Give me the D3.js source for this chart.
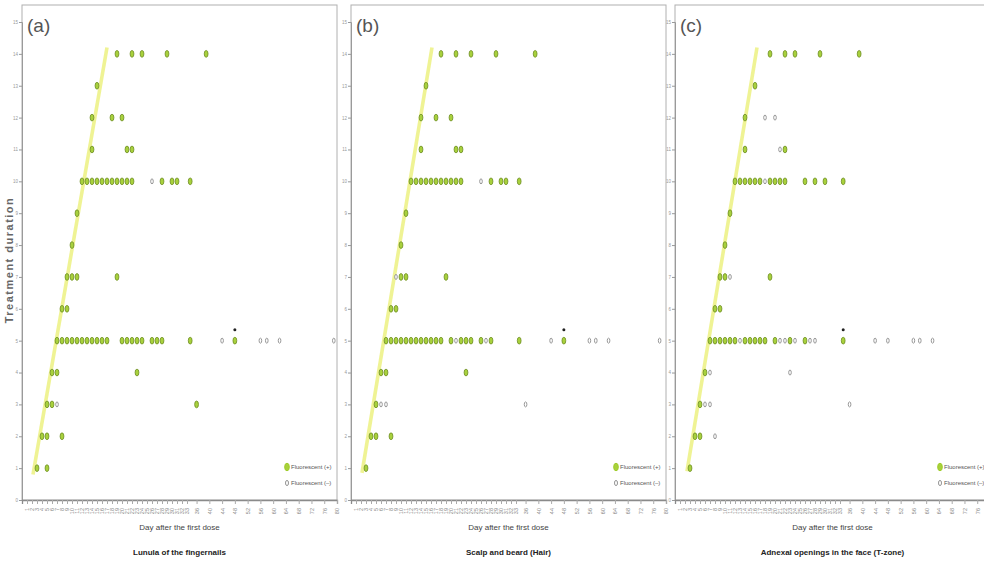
<!DOCTYPE html>
<html><head><meta charset="utf-8">
<script src="https://cdn.jsdelivr.net/npm/d3@7"></script>
<style>body{margin:0;background:#fff}svg{display:block}</style>
</head><body><svg id="chart" width="984" height="565"></svg>
<script>
// ---------------- data ----------------
const panelLetters = ["(a)", "(b)", "(c)"];
const panelTitles = ["Lunula of the fingernails", "Scalp and beard (Hair)", "Adnexal openings in the face (T-zone)"];
const xAxisTitle = "Day after the first dose";
const yAxisTitle = "Treatment duration";
const legendLabels = ["Fluorescent (+)", "Fluorescent (\u2013)"];
const durationTicks = [0,1,2,3,4,5,6,7,8,9,10,11,12,13,14,15];
const dayTicks = [1,2,3,4,5,6,7,8,9,10,11,12,13,14,15,16,17,18,19,20,21,22,23,24,25,26,27,28,29,30,31,32,33,
                  36,40,44,48,52,56,60,64,68,72,76,80];

// rows: [treatment duration, fluorescent (+) days, fluorescent (-) days]
const lunulaRows = [
  [14, [19,22,24,29,39], []],
  [13, [15], []],
  [12, [14,18,20], []],
  [11, [14,21,22], []],
  [10, [12,13,14,15,16,17,18,19,20,21,22,28,30,31,34], [26]],
  [9,  [11], []],
  [8,  [10], []],
  [7,  [9,10,11,19], []],
  [6,  [8,9], []],
  [5,  [7,8,9,10,11,12,13,14,15,16,17,20,21,22,23,24,26,27,28,34,48], [44,56,58,62,79]],
  [4,  [6,7,23], []],
  [3,  [5,6,36], [7]],
  [2,  [4,5,8], []],
  [1,  [3,5], []]
];
const scalpRows = [
  [14, [18,21,24,29,39], []],
  [13, [15], []],
  [12, [14,17,20], []],
  [11, [14,21,22], []],
  [10, [12,13,14,15,16,17,18,19,20,21,22,28,30,31,34], [26]],
  [9,  [11], []],
  [8,  [10], []],
  [7,  [10,11,19], [9]],
  [6,  [8,9], []],
  [5,  [7,8,9,10,11,12,13,14,15,16,17,18,20,22,23,24,26,28,34,48], [21,27,44,56,58,62,78]],
  [4,  [6,7,23], []],
  [3,  [5], [6,7,36]],
  [2,  [4,5,8], []],
  [1,  [3], []]
];
const adnexalRows = [
  [14, [19,22,24,29,39], []],
  [13, [16], []],
  [12, [14], [18,20]],
  [11, [14,22], [21]],
  [10, [12,13,14,15,16,17,19,20,21,22,26,28,30,34], [18]],
  [9,  [11], []],
  [8,  [10], []],
  [7,  [9,10,19], [11]],
  [6,  [8,9], []],
  [5,  [7,8,9,10,11,12,14,15,16,17,18,20,23,26,34], [13,21,22,24,27,28,44,48,56,58,62,79]],
  [4,  [6], [7,23]],
  [3,  [5], [6,7,36]],
  [2,  [4,5], [8]],
  [1,  [3], []]
];
const starMarks = [[5,48],[5,48],[5,34]];          // [duration, day] of the black mark per panel
const endLineLunula = [[2.2,0.8],[17,14.2]];          // [day, duration]
const endLineScalp = [[2.2,0.85],[16.2,14.2]];
const endLineAdnexal = [[2.4,0.9],[16.4,14.2]];

const panelRows = [lunulaRows, scalpRows, adnexalRows];
const panelLines = [endLineLunula, endLineScalp, endLineAdnexal];

// ---------------- layout ----------------
const W = 984;
const panelX0 = [22, 351, 675];
const plotW = 315, yTop = 5, yBottom = 500;
const svg = d3.select("#chart");
const posFill = "#a8d13c", posStroke = "#6f8d27";
const narrow = "Liberation Sans Narrow, Liberation Sans, sans-serif";

panelX0.forEach((x0, i) => {
  const g = svg.append("g");
  const x = d3.scaleLinear().domain([0, 33, 80]).range([x0, x0 + 165, x0 + plotW]);
  const y = d3.scaleLinear().domain([0, 15]).range([yBottom, 22]);

  // frame
  g.append("rect").attr("x", x0).attr("y", yTop).attr("width", plotW).attr("height", yBottom - yTop)
    .attr("fill", "none").attr("stroke", "#b0b0b0").attr("stroke-width", 1);

  // y axis
  const ya = g.append("g").attr("transform", `translate(${x0},0)`)
    .call(d3.axisLeft(y).tickValues(durationTicks).tickSize(3).tickPadding(1));
  ya.select(".domain").attr("stroke", "#9a9a9a");
  ya.selectAll(".tick line").attr("stroke", "#999");
  ya.selectAll(".tick text").attr("font-size", 4.5).attr("fill", "#999").attr("font-family", "Liberation Sans, sans-serif");

  // x axis (ticks that fall inside the page)
  const visTicks = dayTicks.filter(d => x(d) <= W - 4);
  const xa = g.append("g").attr("transform", `translate(0,${yBottom})`)
    .call(d3.axisBottom(x).tickValues(visTicks).tickSize(4).tickPadding(2));
  xa.select(".domain").attr("stroke", "#8a8a8a").attr("stroke-width", 1.3);
  xa.selectAll(".tick line").attr("stroke", "#aaa");
  xa.selectAll(".tick text").attr("font-size", 5.5).attr("fill", "#888")
    .attr("font-family", narrow)
    .attr("x", 0).attr("y", 0).attr("dy", "0.35em").style("text-anchor", "end")
    .attr("transform", "translate(0,8) rotate(-90)");

  // end-of-treatment line
  g.append("path").datum(panelLines[i])
    .attr("d", d3.line().x(d => x(d[0])).y(d => y(d[1])))
    .attr("stroke", "#edf288").attr("stroke-width", 3.6).attr("stroke-linecap", "butt")
    .attr("fill", "none").attr("opacity", 0.9);

  // dots
  const pos = [], neg = [];
  panelRows[i].forEach(([dur, p, n]) => {
    p.forEach(d => pos.push([d, dur]));
    n.forEach(d => neg.push([d, dur]));
  });
  g.selectAll(".neg").data(neg).join("ellipse").attr("class", "neg")
    .attr("cx", d => x(d[0])).attr("cy", d => y(d[1])).attr("rx", 1.3).attr("ry", 2.5)
    .attr("fill", "#fff").attr("stroke", "#8c8c8c").attr("stroke-width", 0.9);
  g.selectAll(".pos").data(pos).join("ellipse").attr("class", "pos")
    .attr("cx", d => x(d[0])).attr("cy", d => y(d[1])).attr("rx", 1.9).attr("ry", 3.4)
    .attr("fill", posFill).attr("stroke", posStroke).attr("stroke-width", 0.8);

  // black mark
  g.append("circle").attr("cx", x(starMarks[i][1])).attr("cy", y(starMarks[i][0]) - 11)
    .attr("r", 1.5).attr("fill", "#222");

  // panel letter
  g.append("text").attr("x", x0 + 5).attr("y", 32).text(panelLetters[i])
    .attr("font-family", narrow).attr("font-size", 19).attr("fill", "#555");

  // legend
  const lx = x0 + 265;
  g.append("ellipse").attr("cx", lx).attr("cy", 467).attr("rx", 2.3).attr("ry", 3.8)
    .attr("fill", posFill).attr("stroke", "#9fcc2a").attr("stroke-width", 1);
  g.append("ellipse").attr("cx", lx).attr("cy", 483).attr("rx", 1.5).attr("ry", 2.6)
    .attr("fill", "#fff").attr("stroke", "#888").attr("stroke-width", 0.9);
  [467, 483].forEach((ly, k) => {
    g.append("text").attr("x", lx + 4).attr("y", ly + 2).text(legendLabels[k])
      .attr("font-family", narrow).attr("font-size", 6).attr("fill", "#555");
  });

  // titles
  const cx = x0 + plotW / 2;
  g.append("text").attr("x", cx).attr("y", 530).attr("text-anchor", "middle").text(xAxisTitle)
    .attr("font-family", narrow).attr("font-size", 8).attr("fill", "#444");
  g.append("text").attr("x", cx).attr("y", 555).attr("text-anchor", "middle").text(panelTitles[i])
    .attr("font-family", narrow).attr("font-size", 8).attr("font-weight", "bold").attr("fill", "#222");
});

// y axis title
svg.append("text").attr("transform", "translate(13,260) rotate(-90)").attr("text-anchor", "middle")
  .text(yAxisTitle).attr("font-family", "Liberation Sans, sans-serif").attr("font-weight", "bold")
  .attr("font-size", 11).attr("letter-spacing", 1.5).attr("fill", "#666");
</script></body></html>
